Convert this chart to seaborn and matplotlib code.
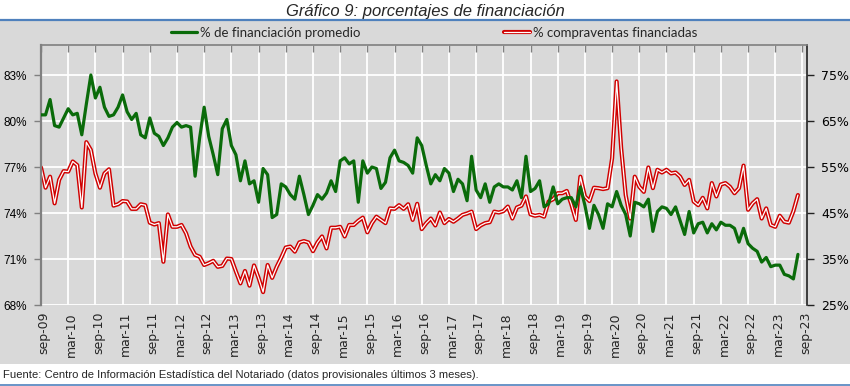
import numpy as np
import pandas as pd
import matplotlib
matplotlib.use("Agg")
import matplotlib.pyplot as plt
import seaborn as sns
from matplotlib.lines import Line2D
from matplotlib.patches import Rectangle
from matplotlib.legend_handler import HandlerTuple
from matplotlib.transforms import ScaledTranslation

# ---------------- data (monthly, sep-09 onwards) ----------------
pct_financiacion_promedio = [
    80.4, 80.4, 81.4, 79.7, 79.6, 80.2, 80.8, 80.4, 80.5, 79.1,
    81.1, 83.0, 81.5, 82.2, 80.9, 80.3, 80.4, 80.9, 81.7, 80.6,
    80.1, 80.5, 79.1, 78.9, 80.2, 79.2, 79.0, 78.4, 78.9, 79.6,
    79.9, 79.6, 79.7, 79.6, 76.4, 78.9, 80.9, 79.0, 77.8, 76.5,
    79.5, 80.1, 78.4, 77.8, 76.1, 77.4, 75.9, 76.1, 74.7, 76.9,
    76.5, 73.7, 73.9, 75.9, 75.7, 75.2, 74.9, 76.4, 75.2, 73.9,
    74.5, 75.2, 74.9, 75.3, 76.1, 75.4, 77.4, 77.6, 77.2, 77.4,
    74.7, 77.4, 76.6, 77.0, 76.9, 75.6, 76.0, 77.6, 78.1, 77.4,
    77.3, 77.1, 76.6, 78.9, 78.4, 77.1, 75.9, 76.5, 76.1, 76.9,
    76.6, 75.4, 76.2, 75.9, 74.8, 77.7, 75.5, 75.0, 75.9, 74.7,
    75.7, 75.9, 75.7, 75.7, 75.5, 76.1, 75.0, 77.7, 75.4, 75.6,
    76.1, 74.4, 74.6, 75.7, 74.6, 74.9, 75.0, 75.0, 74.4, 75.7,
    74.5, 73.0, 74.5, 73.9, 73.0, 74.6, 74.4, 75.4, 74.5, 73.9,
    72.5, 74.7, 74.6, 74.4, 74.9, 72.8, 74.1, 74.4, 74.3, 73.9,
    74.4, 73.5, 72.6, 74.1, 72.7, 73.3, 73.4, 72.7, 73.3, 72.9,
    73.4, 73.2, 73.2, 73.0, 72.1, 73.0, 72.0, 71.7, 71.5, 70.8,
    71.1, 70.5, 70.6, 70.6, 70.0, 69.9, 69.7, 71.3,
]

pct_compraventas_financiadas = [
    54.9, 50.5, 52.9, 47.1, 52.2, 54.1, 54.0, 56.2, 55.4, 46.2,
    60.4, 58.7, 53.6, 50.5, 53.6, 54.5, 46.6, 46.9, 47.6, 47.5,
    45.9, 45.9, 46.9, 46.7, 42.9, 42.5, 42.8, 34.4, 44.7, 42.0,
    42.0, 42.4, 40.6, 37.7, 35.9, 35.5, 33.7, 34.1, 34.6, 33.3,
    33.5, 35.1, 35.0, 32.3, 29.7, 32.4, 29.2, 33.6, 30.9, 27.8,
    33.7, 30.9, 33.3, 35.3, 37.5, 37.7, 36.6, 38.6, 38.9, 38.6,
    36.7, 38.6, 39.9, 37.3, 41.8, 41.8, 42.0, 39.9, 42.4, 42.4,
    43.3, 44.0, 40.8, 42.8, 44.2, 43.5, 42.8, 46.0, 45.9, 46.7,
    45.9, 46.9, 43.5, 47.0, 41.5, 42.8, 43.8, 42.3, 45.1, 42.8,
    43.7, 43.1, 43.8, 44.6, 44.9, 45.3, 41.5, 42.3, 42.8, 43.0,
    45.3, 45.1, 45.4, 46.4, 43.8, 46.2, 46.6, 48.6, 44.7, 44.4,
    44.6, 44.2, 47.5, 48.0, 49.3, 49.3, 49.8, 46.9, 43.5, 52.9,
    48.6, 47.6, 50.5, 50.4, 50.2, 50.4, 56.9, 73.6, 59.1, 48.9,
    43.8, 52.9, 50.7, 49.6, 54.9, 50.4, 54.4, 53.8, 54.4, 53.6,
    53.8, 52.9, 51.1, 52.2, 47.5, 46.7, 48.3, 46.0, 51.5, 48.6,
    51.2, 51.5, 50.7, 49.3, 50.4, 55.3, 45.7, 47.1, 48.0, 43.8,
    46.0, 42.4, 42.0, 44.4, 43.1, 42.9, 45.4, 48.9,
]

x_tick_labels = [
    "sep-09", "mar-10", "sep-10", "mar-11", "sep-11", "mar-12", "sep-12",
    "mar-13", "sep-13", "mar-14", "sep-14", "mar-15", "sep-15", "mar-16",
    "sep-16", "mar-17", "sep-17", "mar-18", "sep-18", "mar-19", "sep-19",
    "mar-20", "sep-20", "mar-21", "sep-21", "mar-22", "sep-22", "mar-23",
    "sep-23",
]
left_ticks = [68, 71, 74, 77, 80, 83]
right_ticks = [25, 35, 45, 55, 65, 75]

title = "Gráfico 9: porcentajes de financiación"
label_green = "% de financiación promedio"
label_red = "% compraventas financiadas"
source = "Fuente: Centro de Información Estadística del Notariado (datos provisionales últimos 3 meses)."

# ---------------- styling ----------------
sns.set_style("white")
plt.rcParams["font.family"] = ["Liberation Sans", "DejaVu Sans"]

W, H = 850, 386
GRAY = "#D9D9D9"
GREEN = "#0A6B0A"
RED = "#D00000"
BLUE = "#4F81BD"

df = pd.DataFrame({
    "idx": np.arange(len(pct_financiacion_promedio)),
    "fin": pct_financiacion_promedio,
    "comp": pct_compraventas_financiadas,
})

fig = plt.figure(figsize=(W / 100, H / 100), dpi=100, facecolor="white")

# gray chart area and blue rules
fig.add_artist(Rectangle((0, 1 - 364 / H), 1, (364 - 21) / H, transform=fig.transFigure,
                         facecolor=GRAY, edgecolor="none", zorder=-10))
fig.add_artist(Line2D([0, 1], [1 - 20 / H] * 2, transform=fig.transFigure, color=BLUE, lw=1.6))
fig.add_artist(Line2D([0, 1], [1 - 384.5 / H] * 2, transform=fig.transFigure, color=BLUE, lw=1.2))

left, right, top, bottom = 41, 807, 45, 305
ax_r = fig.add_axes([left / W, 1 - bottom / H, (right - left) / W, (bottom - top) / H])
ax_r.set_facecolor(GRAY)
ax_l = ax_r.twinx()

# red double line on right scale
sns.lineplot(data=df, x="idx", y="comp", ax=ax_r, color=RED, lw=3.0, zorder=3)
sns.lineplot(data=df, x="idx", y="comp", ax=ax_r, color="white", lw=0.9, zorder=4)
# green on left scale
sns.lineplot(data=df, x="idx", y="fin", ax=ax_l, color=GREEN, lw=2.3, zorder=5)

ax_r.set_xlim(0, 169)
ax_r.set_ylim(25, 25 + 260 * 10 / 46)
ax_l.set_ylim(68, 68 + 260 * 3 / 46)

# right axis (red)
ax_r.yaxis.tick_right()
ax_r.set_yticks(right_ticks)
ax_r.set_yticklabels([f"{v}%" for v in right_ticks], fontsize=9,
                     family=["DejaVu Sans"])
ax_r.tick_params(axis="y", which="major", right=True, left=False, direction="out",
                 length=5, width=1.0, color="#222222", pad=5, labelcolor="black")
# left axis (green)
ax_l.yaxis.tick_left()
ax_l.set_yticks(left_ticks)
ax_l.set_yticklabels([f"{v}%" for v in left_ticks], fontsize=8.5)
ax_l.tick_params(axis="y", which="major", left=True, right=False, direction="out",
                 length=5, width=1.0, color="#808080", pad=5, labelcolor="black")

# x axis
ax_r.set_xticks(np.arange(0, 6 * len(x_tick_labels), 6))
ax_r.set_xticklabels(x_tick_labels, rotation=90, fontsize=9, family=["DejaVu Sans"])
ax_r.tick_params(axis="x", which="major", top=True, bottom=False, direction="in",
                 length=5, width=1.0, color="#808080", pad=5, labelbottom=True, labeltop=False)
shift = ScaledTranslation(3 / 100, 0, fig.dpi_scale_trans)
for lab in ax_r.get_xticklabels():
    lab.set_transform(lab.get_transform() + shift)
for a in (ax_r, ax_l):
    a.set_xlabel("")
    a.set_ylabel("")

ax_r.grid(True, axis="both", color="white", lw=1.3)
ax_r.set_axisbelow(True)

for s in ("left", "bottom"):
    ax_r.spines[s].set_visible(False)
ax_r.spines["top"].set_color("#808080")
ax_r.spines["top"].set_linewidth(1.2)
ax_r.spines["right"].set_color("#222222")
ax_r.spines["right"].set_linewidth(1.2)
for s in ("top", "right", "bottom"):
    ax_l.spines[s].set_visible(False)
ax_l.spines["left"].set_color("#808080")
ax_l.spines["left"].set_linewidth(1.6)

# title
fig.text(0.5, 1 - 11.5 / H, title, ha="center", va="center", fontsize=12, style="italic")

# legends
h_green = Line2D([], [], color=GREEN, lw=2.3)
h_red = (Line2D([], [], color=RED, lw=3.0), Line2D([], [], color="white", lw=0.9))
leg_kw = dict(frameon=False, handlelength=2.0, handletextpad=0.2,
              borderpad=0, borderaxespad=0, loc="center left",
              prop={"family": ["Lato", "DejaVu Sans"], "size": 9.5})
fig.legend(handles=[h_green], labels=[label_green],
           bbox_to_anchor=(171 / W, 1 - 33 / H), **leg_kw)
fig.legend(handles=[h_red], labels=[label_red],
           handler_map={tuple: HandlerTuple(ndivide=1)},
           bbox_to_anchor=(504 / W, 1 - 33 / H), **leg_kw)

# source
fig.text(3 / W, 1 - 375.5 / H, source, ha="left", va="center", fontsize=8.1)

fig.savefig("out.png", dpi=100, facecolor="white")
